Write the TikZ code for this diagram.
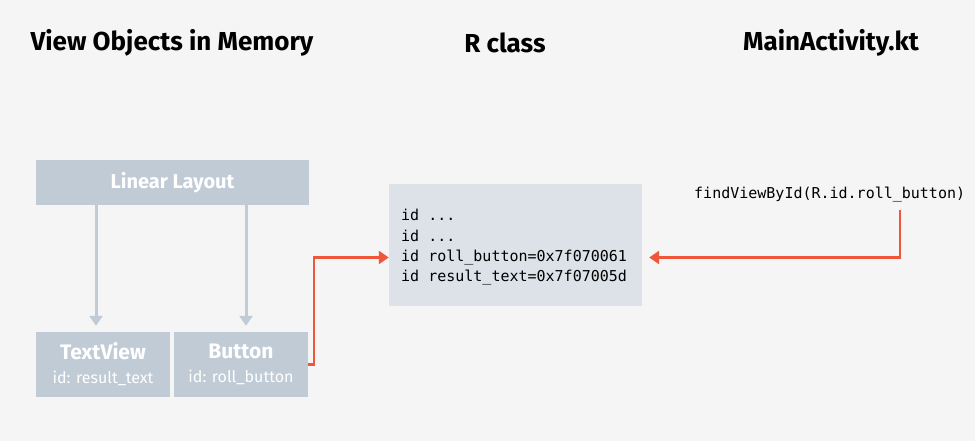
\documentclass[tikz,border=0pt]{standalone}
\usepackage{fontspec}
\setmainfont{Fira Sans}
\setmonofont{DejaVu Sans Mono}
\usetikzlibrary{arrows.meta,positioning}

\definecolor{pagebg}{HTML}{F5F5F5}
\definecolor{viewfill}{HTML}{C0CBD6}
\definecolor{rfill}{HTML}{DDE2E8}
\definecolor{linkred}{HTML}{F0573A}

\tikzset{
  title/.style={font=\bfseries\fontsize{26}{30}\selectfont, text=black},
  viewbox/.style={fill=viewfill, text=white, align=center, inner sep=0pt,
                  font=\fontsize{16}{24}\selectfont},
  codeline/.style={font=\ttfamily\fontsize{15}{18}\selectfont, anchor=west, inner sep=0pt},
  treearrow/.style={draw=viewfill, line width=3pt, -{Triangle[width=13pt,length=10pt]}},
  idarrow/.style={draw=linkred, line width=2.5pt, -{Triangle[width=13pt,length=10pt]}}
}

\begin{document}
\begin{tikzpicture}[x=1pt,y=-1pt]
        \fill[pagebg] (0,0) rectangle (975,441);
        \useasboundingbox (0,0) rectangle (975,441);

        % titles
        \node[title] (tmem) at (172,43) {View Objects in Memory};
        \node[title] (tr) at (505,43) {R class};
        \node[title] (tmain) at (831,43) {MainActivity.kt};

        % view tree
        \node[viewbox, minimum width=273pt, minimum height=45pt,
              font=\bfseries\fontsize{20}{24}\selectfont] (lin) at (172.5,182.5) {Linear Layout};
        \node[viewbox, minimum width=134pt, minimum height=65pt] (txt) at (103,364.5)
              {{\bfseries\fontsize{21}{24}\selectfont TextView}\\id: result\_text};
        \node[viewbox, minimum width=134pt, minimum height=65pt] (btn) at (241,364.5)
              {{\bfseries\fontsize{21}{24}\selectfont Button}\\id: roll\_button};

        \draw[treearrow, shorten >=6pt] (lin.south -| 96,0) -- (txt.north -| 96,0);
        \draw[treearrow, shorten >=6pt] (lin.south -| 246,0) -- (btn.north -| 246,0);

        % R class
        \node[fill=rfill, minimum width=253pt, minimum height=122pt, inner sep=0pt] (rbox) at (515.5,245) {};
        \node[codeline] (l1) at (401,215) {id ...};
        \node[codeline] (l2) at (401,235.5) {id ...};
        \node[codeline] (roll) at (401,257.5) {id roll\_button=0x7f070061};
        \node[codeline] (res) at (401,278) {id result\_text=0x7f07005d};

        % MainActivity
        \node[codeline] (find) at (694,195) {findViewById(R.id.roll\_button)};
        \coordinate (findpt) at (900,210);

        % links to the id
        \draw[idarrow] (btn.east) -- ++(6,0) |- (rbox.west |- roll);
        \draw[idarrow, shorten >=-1pt] (findpt) |- ([xshift=8pt]rbox.east |- roll);
    \end{tikzpicture}
\end{document}
